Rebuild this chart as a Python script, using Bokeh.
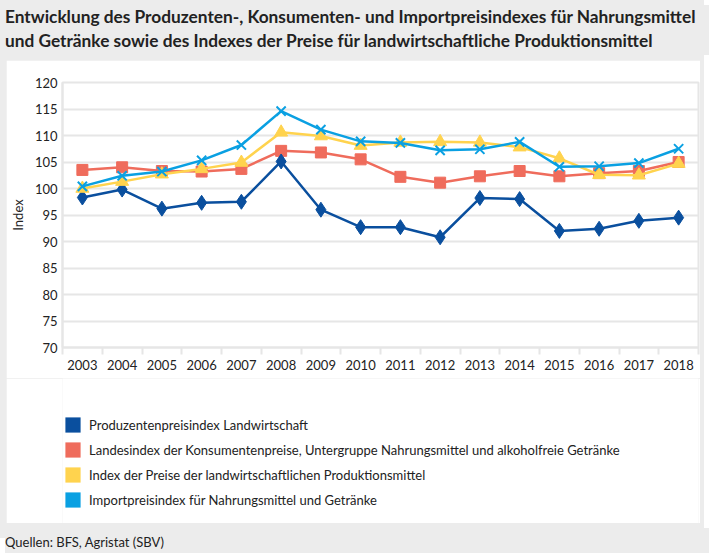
from bokeh.plotting import figure
from bokeh.models import (ColumnDataSource, Legend, LegendItem, FixedTicker, Div, Range1d)
from bokeh.layouts import column
from bokeh.embed import file_html
from bokeh.resources import INLINE

years = list(range(2003, 2019))
produzenten = [98.3, 99.8, 96.2, 97.3, 97.5, 105.1, 96.0, 92.7, 92.7, 90.8, 98.2, 98.0, 92.0, 92.4, 93.9, 94.5]
konsumenten = [103.5, 104.0, 103.3, 103.2, 103.7, 107.1, 106.8, 105.5, 102.2, 101.1, 102.3, 103.3, 102.3, 102.9, 103.3, 105.0]
produktionsmittel = [100.0, 101.3, 102.7, 103.7, 104.9, 110.6, 109.9, 108.1, 108.7, 108.8, 108.7, 107.8, 105.7, 102.6, 102.5, 104.7]
import_idx = [100.4, 102.4, 103.2, 105.3, 108.2, 114.6, 111.1, 108.9, 108.6, 107.2, 107.4, 108.8, 104.1, 104.2, 104.8, 107.5]
y_ticks = [70, 75, 80, 85, 90, 95, 100, 105, 110, 115, 120]

labels = [
    "Produzentenpreisindex Landwirtschaft",
    "Landesindex der Konsumentenpreise, Untergruppe Nahrungsmittel und alkoholfreie Getränke",
    "Index der Preise der landwirtschaftlichen Produktionsmittel",
    "Importpreisindex für Nahrungsmittel und Getränke",
]
title_text = ("Entwicklung des Produzenten-, Konsumenten- und Importpreisindexes für Nahrungsmittel<br>"
              "und Getränke sowie des Indexes der Preise für landwirtschaftliche Produktionsmittel")
source_text = "Quellen: BFS, Agristat (SBV)"

C_DARK = "#0a4f9e"
C_RED = "#ef6c5c"
C_YEL = "#ffd34e"
C_LB = "#0aa0e2"
FONT = "Lato"
TXT = "#222222"
GRID = "#e6e6e6"

src = ColumnDataSource(dict(year=years, p=produzenten, k=konsumenten, m=produktionsmittel, i=import_idx))

# ---- main chart
p = figure(width=694, height=318, output_backend="svg", toolbar_location=None,
           x_range=Range1d(2002.5, 2018.5), y_range=Range1d(70, 120),
           min_border_left=49, min_border_right=2, min_border_top=22, min_border_bottom=31,
           background_fill_color="white", border_fill_color="white",
           outline_line_color=GRID, outline_line_width=2)
p.margin = (0, 4, 0, 6)

p.line("year", "k", source=src, color=C_RED, line_width=2.5)
p.scatter("year", "k", source=src, marker="square", size=11, color=C_RED)
p.line("year", "p", source=src, color=C_DARK, line_width=2.5)
p.scatter("year", "p", source=src, marker="diamond", size=15, color=C_DARK)
p.line("year", "m", source=src, color=C_YEL, line_width=2.5)
p.scatter("year", "m", source=src, marker="triangle", size=13, color=C_YEL)
p.line("year", "i", source=src, color=C_LB, line_width=2.5)
p.scatter("year", "i", source=src, marker="x", size=13, line_color=C_LB, line_width=2)

xa = p.xaxis[0]
xa.ticker = FixedTicker(ticks=years, minor_ticks=[y - 0.5 for y in years] + [2018.5])
xa.major_tick_line_color = None
xa.major_tick_out = 0
xa.minor_tick_out = 7
xa.minor_tick_in = 0
xa.minor_tick_line_color = GRID
xa.minor_tick_line_width = 2
xa.axis_line_color = GRID
xa.axis_line_width = 2
xa.major_label_standoff = 5
xa.major_label_text_font = FONT
xa.major_label_text_font_size = "13px"
xa.major_label_text_color = TXT

ya = p.yaxis[0]
ya.ticker = FixedTicker(ticks=y_ticks)
ya.major_tick_line_color = None
ya.minor_tick_line_color = None
ya.major_tick_out = 0
ya.axis_line_color = GRID
ya.axis_line_width = 2
ya.major_label_standoff = 5
ya.major_label_text_font = FONT
ya.major_label_text_font_size = "13px"
ya.major_label_text_color = TXT
ya.axis_label = "Index"
ya.axis_label_text_font = FONT
ya.axis_label_text_font_size = "13px"
ya.axis_label_text_font_style = "normal"
ya.axis_label_text_color = TXT
ya.axis_label_standoff = 6

p.xgrid.grid_line_color = None
p.ygrid.grid_line_color = GRID
p.ygrid.grid_line_width = 2

# ---- legend panel (its frame is aligned with the chart frame by the column layout)
lf = figure(width=694, height=145, output_backend="svg", toolbar_location=None,
            x_range=Range1d(0, 1), y_range=Range1d(0, 1),
            x_axis_location=None, y_axis_location=None,
            min_border=0, min_border_left=0, min_border_right=0, min_border_top=0, min_border_bottom=0,
            background_fill_color="white", border_fill_color="white", outline_line_color=None)
lf.margin = (0, 4, 0, 6)
lf.grid.visible = False

nan = float("nan")
items = []
for lab, col in zip(labels, [C_DARK, C_RED, C_YEL, C_LB]):
    swatch = ColumnDataSource(dict(l=[nan], r=[nan], t=[nan], b=[nan]))
    r = lf.quad(left="l", right="r", top="t", bottom="b", source=swatch, fill_color=col, line_color=None)
    items.append(LegendItem(label=lab, renderers=[r]))

legend = Legend(items=items, orientation="vertical", location=(1, 14))
legend.padding = 0
legend.margin = 0
legend.glyph_width = 19
legend.glyph_height = 19
legend.label_height = 17
legend.spacing = 6
legend.label_standoff = 7
legend.label_text_font = FONT
legend.label_text_font_size = "13px"
legend.label_text_color = TXT
legend.border_line_color = None
legend.background_fill_alpha = 0
lf.add_layout(legend, "center")

title_div = Div(text=title_text, width=704, height=50,
                styles={"font-family": FONT, "font-weight": "bold", "font-size": "17.3px",
                        "line-height": "24px", "color": TXT, "padding": "0px 0 0 0px",
                        "box-sizing": "border-box", "background-color": "#ececec",
                        "white-space": "nowrap"})
source_div = Div(text=source_text, width=704, height=25,
                 styles={"font-family": FONT, "font-size": "13px", "line-height": "18px",
                         "color": TXT, "padding": "5px 0 0 0px", "box-sizing": "border-box",
                         "background-color": "#ececec"})

layout = column(title_div, p, lf, source_div, width=704, height=538, spacing=0,
                styles={"background-color": "#ececec"})

open("out.html", "w").write(file_html(layout, INLINE))
